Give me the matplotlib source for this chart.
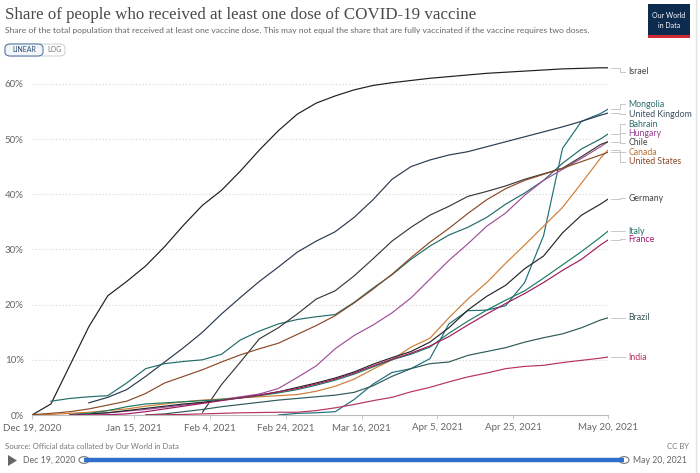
import numpy as np
import pandas as pd
import matplotlib
matplotlib.use("Agg")
import matplotlib.pyplot as plt
from matplotlib.patches import FancyBboxPatch, Rectangle, Circle, Polygon
from matplotlib.lines import Line2D
import matplotlib.transforms as mtransforms

nan = np.nan

# ---------------- data ----------------
day_offsets = [0, 5, 10, 15, 20, 25, 30, 35, 40, 45, 50, 55, 60, 65, 70, 75, 80, 85,
               90, 95, 100, 105, 110, 115, 120, 125, 130, 135, 140, 145, 150, 152]

israel = [0, 2.0, 9.0, 16.0, 21.6, 24.2, 27.0, 30.5, 34.4, 38.0, 40.7, 44.2, 48.0, 51.5, 54.5, 56.5,
          57.8, 58.9, 59.7, 60.2, 60.6, 61.0, 61.3, 61.6, 61.9, 62.1, 62.3, 62.5, 62.7, 62.8, 62.9, 62.9]
mongolia = [nan] * 13 + [0.0, 0.3, 0.4, 0.6, 2.8, 5.6, 7.7, 8.4, 10.2, 16.5, 18.9, 19.0, 19.8,
                         24.0, 32.5, 48.3, 53.2, 54.6, 55.4]
united_kingdom = [nan, nan, nan, 2.2, 3.2, 4.6, 7.0, 9.6, 12.2, 15.0, 18.3, 21.3, 24.2, 26.8, 29.5, 31.5,
                  33.2, 35.8, 39.0, 42.7, 45.0, 46.2, 47.1, 47.7, 48.6, 49.5, 50.4, 51.3, 52.2, 53.2, 54.3, 54.7]
bahrain = [nan, 2.5, 3.0, 3.3, 3.5, 5.8, 8.4, 9.3, 9.7, 10.0, 11.0, 13.6, 15.2, 16.5, 17.3, 17.8,
           18.2, 20.4, 23.0, 25.4, 28.2, 30.6, 32.6, 34.0, 35.8, 38.2, 40.2, 42.5, 45.6, 48.2, 50.0, 50.9]
hungary = [nan, nan, 0.1, 0.2, 0.4, 0.7, 1.0, 1.4, 1.8, 2.2, 2.8, 3.3, 3.8, 4.8, 6.8, 8.9,
           12.0, 14.4, 16.3, 18.5, 21.2, 24.6, 28.0, 31.0, 34.2, 36.6, 39.8, 42.5, 44.5, 46.5, 48.6, 49.5]
chile = [nan] * 9 + [0.5, 5.5, 9.6, 13.8, 15.8, 18.3, 21.0, 22.5, 25.2, 28.3, 31.5, 34.0, 36.2,
                     37.8, 39.6, 40.5, 41.5, 42.7, 43.7, 44.7, 46.8, 49.0, 49.5]
canada = [0, 0.1, 0.3, 0.5, 0.8, 1.1, 1.6, 2.0, 2.4, 2.7, 2.9, 3.1, 3.3, 3.5, 3.7, 4.3,
          5.2, 6.5, 8.3, 10.0, 12.3, 13.9, 17.6, 21.0, 24.0, 27.5, 30.8, 34.2, 37.6, 42.0, 46.5, 48.0]
united_states = [0.05, 0.3, 0.6, 1.1, 1.8, 2.5, 3.9, 5.8, 7.0, 8.2, 9.6, 10.9, 12.0, 13.0, 14.6, 16.2,
                 18.0, 20.3, 22.8, 25.5, 28.5, 31.3, 33.8, 36.5, 39.0, 41.0, 42.5, 43.6, 44.7, 45.9, 47.1, 47.6]
germany = [nan, nan, 0.05, 0.2, 0.4, 0.8, 1.2, 1.6, 2.0, 2.3, 2.7, 3.1, 3.6, 4.2, 5.0, 5.8,
           6.7, 7.8, 9.2, 10.4, 11.5, 13.2, 15.8, 19.0, 21.5, 23.5, 26.5, 28.8, 33.0, 36.2, 38.2, 39.1]
italy = [nan, nan, 0.05, 0.3, 0.8, 1.5, 2.0, 2.2, 2.4, 2.6, 2.8, 3.1, 3.5, 4.0, 4.6, 5.4,
         6.3, 7.4, 8.7, 10.0, 11.0, 12.3, 14.8, 17.0, 19.0, 20.8, 22.5, 24.8, 27.2, 29.6, 32.2, 33.3]
france = [nan, nan, 0.0, 0.02, 0.05, 0.2, 0.6, 1.1, 1.6, 2.1, 2.6, 3.1, 3.6, 4.2, 4.8, 5.6,
          6.5, 7.6, 8.9, 10.1, 11.2, 12.5, 14.2, 16.3, 18.3, 20.2, 22.0, 24.0, 26.2, 28.2, 30.8, 31.7]
brazil = [nan] * 6 + [0.02, 0.2, 0.6, 1.0, 1.5, 1.9, 2.3, 2.7, 3.0, 3.3, 3.6, 4.1, 5.3, 7.0,
                      8.4, 9.3, 9.6, 10.8, 11.5, 12.2, 13.2, 14.0, 14.7, 15.8, 17.2, 17.6]
india = [nan] * 6 + [0.01, 0.05, 0.1, 0.2, 0.3, 0.4, 0.45, 0.5, 0.5, 0.8, 1.3, 1.9, 2.6, 3.2,
                     4.2, 5.0, 6.0, 6.9, 7.6, 8.4, 8.8, 9.0, 9.5, 9.9, 10.3, 10.5]

countries = ["Israel", "Mongolia", "United Kingdom", "Bahrain", "Hungary", "Chile", "Canada",
             "United States", "Germany", "Italy", "France", "Brazil", "India"]
series = [israel, mongolia, united_kingdom, bahrain, hungary, chile, canada,
          united_states, germany, italy, france, brazil, india]

tick_dates = ["2020-12-19", "2021-01-15", "2021-02-04", "2021-02-24", "2021-03-16",
              "2021-04-05", "2021-04-25", "2021-05-20"]
tick_labels = ["Dec 19, 2020", "Jan 15, 2021", "Feb 4, 2021", "Feb 24, 2021", "Mar 16, 2021",
               "Apr 5, 2021", "Apr 25, 2021", "May 20, 2021"]
y_ticks = [0, 10, 20, 30, 40, 50, 60]

# ---------------- styles ----------------
colors = {
    "Israel": "#1e1e1e", "Mongolia": "#1d6f78", "United Kingdom": "#2a3b4e",
    "Bahrain": "#236b6b", "Hungary": "#a04e98", "Chile": "#3a3a3a",
    "Canada": "#cf7c34", "United States": "#8a4a26", "Germany": "#262626",
    "Italy": "#1f7a62", "France": "#a01a5e", "Brazil": "#2d5a5a", "India": "#b8325e",
}
label_colors = {
    "Israel": "#444444", "Mongolia": "#2a6d6d", "United Kingdom": "#3c4f60",
    "Bahrain": "#2a6a6a", "Hungary": "#9a3f8e", "Chile": "#444444",
    "Canada": "#b8733a", "United States": "#8a4a26", "Germany": "#444444",
    "Italy": "#1f7060", "France": "#a01a68", "Brazil": "#3a5050", "India": "#b8325e",
}
label_y = {
    "Israel": 62.2, "Mongolia": 56.3, "United Kingdom": 54.5, "Bahrain": 52.7,
    "Hungary": 51.0, "Chile": 49.3, "Canada": 47.6, "United States": 45.9,
    "Germany": 39.3, "Italy": 33.3, "France": 31.8, "Brazil": 17.6, "India": 10.5,
}

W, H = 700, 473
fig = plt.figure(figsize=(W / 100, H / 100), dpi=100)
fig.patch.set_facecolor("white")

def fx(px):
    return px / W

def fy(py):
    return 1 - py / H

FONT = ["Lato", "DejaVu Sans"]

# main axes
ax_left, ax_right, ax_bottom, ymax = 32, 608, 415, 63.0
ax_top = ax_bottom - ymax * 5.52
ax = fig.add_axes([fx(ax_left), fy(ax_bottom), fx(ax_right - ax_left), (ax_bottom - ax_top) / H])

start = pd.Timestamp("2020-12-19")
dates = [start + pd.Timedelta(days=d) for d in day_offsets]
end = start + pd.Timedelta(days=152)

for name, vals in zip(countries, series):
    ax.plot(dates, vals, color=colors[name], lw=0.85, solid_joinstyle="round", zorder=3)

ax.set_xlim(start, end)
ax.set_ylim(0, ymax)
ax.set_xticks([pd.Timestamp(d) for d in tick_dates])
ax.set_xticklabels(tick_labels, fontsize=7, color="#666666", family=FONT)
ax.set_yticks(y_ticks)
ax.set_yticklabels([f"{v}%" for v in y_ticks], fontsize=7, color="#666666", family=FONT)
ax.tick_params(axis="y", length=0, pad=6)
ax.tick_params(axis="x", length=3, color="#cccccc", pad=3)
for lbl in ax.get_yticklabels():
    lbl.set_horizontalalignment("right")
for s in ["top", "right", "left"]:
    ax.spines[s].set_visible(False)
ax.spines["bottom"].set_color("#bbbbbb")
ax.spines["bottom"].set_linewidth(0.8)
for v in y_ticks[1:]:
    ax.axhline(v, color="#dadada", lw=0.8, ls=(0, (1.2, 1.8)), zorder=1)

# end labels and connectors
trans = mtransforms.blended_transform_factory(ax.transAxes, ax.transData)
for name, vals in zip(countries, series):
    yend = vals[-1]
    ly = label_y[name]
    x0, x1, x2 = 1.005, 1.020, 1.030
    ax.add_line(Line2D([x0, x1, x1, x2], [yend, yend, ly, ly], transform=trans,
                       color="#c8c8c8", lw=0.7, clip_on=False))
    ax.text(1.036, ly, name, transform=trans, fontsize=6.3, color=label_colors[name],
            va="center", ha="left", family=FONT, clip_on=False)

# title & subtitle
fig.text(fx(5), fy(15), "Share of people who received at least one dose of COVID-19 vaccine",
         fontsize=12.2, family=["Liberation Serif", "DejaVu Serif"], color="#4a4a4a", va="center")
fig.text(fx(5), fy(31), "Share of the total population that received at least one vaccine dose. "
         "This may not equal the share that are fully vaccinated if the vaccine requires two doses.",
         fontsize=6.1, family=FONT, color="#666666", va="center")

# LINEAR / LOG buttons
fig.patches.append(FancyBboxPatch((fx(5), fy(56)), fx(60), 12 / H,
                                  boxstyle="round,pad=0,rounding_size=0.008",
                                  transform=fig.transFigure, fc="white", ec="#cccccc", lw=0.7))
fig.patches.append(FancyBboxPatch((fx(5), fy(56)), fx(38), 12 / H,
                                  boxstyle="round,pad=0,rounding_size=0.008",
                                  transform=fig.transFigure, fc="#f2f6fb", ec="#5b7fa8", lw=0.8))
fig.text(fx(24), fy(50), "LINEAR", fontsize=5, family=FONT, color="#2c4a70", ha="center", va="center")
fig.text(fx(54), fy(50), "LOG", fontsize=5, family=FONT, color="#777777", ha="center", va="center")

# OWID logo
fig.patches.append(Rectangle((fx(648), fy(38)), fx(42), 34 / H, transform=fig.transFigure,
                             fc="#0d2a4f", ec="none"))
fig.patches.append(Rectangle((fx(648), fy(38)), fx(42), 3 / H, transform=fig.transFigure,
                             fc="#ce2b37", ec="none"))
fig.text(fx(669), fy(16), "Our World", fontsize=5, family=FONT, color="white", ha="center", va="center")
fig.text(fx(669), fy(25), "in Data", fontsize=5, family=FONT, color="white", ha="center", va="center")

# footer
fig.text(fx(5), fy(446), "Source: Official data collated by Our World in Data", fontsize=5.6,
         family=FONT, color="#777777", va="center")
fig.text(fx(689), fy(446), "CC BY", fontsize=5.6, family=FONT, color="#777777", va="center", ha="right")

# timeline
fig.patches.append(Polygon([(fx(8), fy(455)), (fx(8), fy(466)), (fx(17), fy(460.5))], closed=True,
                           transform=fig.transFigure, fc="#666666", ec="none"))
fig.text(fx(23), fy(460), "Dec 19, 2020", fontsize=6.3, family=FONT, color="#666666", va="center")
fig.lines.append(Line2D([fx(84), fx(624)], [fy(460), fy(460)], transform=fig.transFigure,
                        color="#2f6fcc", lw=3.2, solid_capstyle="butt"))
for cx in (84, 624):
    fig.patches.append(Circle((fx(cx), fy(460)), 5 / W, transform=fig.transFigure,
                              fc="white", ec="#777777", lw=0.8))
fig.text(fx(633), fy(460), "May 20, 2021", fontsize=6.3, family=FONT, color="#666666", va="center")

# right border
fig.lines.append(Line2D([fx(696), fx(696)], [fy(0), fy(473)], transform=fig.transFigure,
                        color="#e4e4e4", lw=1.0))

fig.savefig("out.png", dpi=100, facecolor="white")
